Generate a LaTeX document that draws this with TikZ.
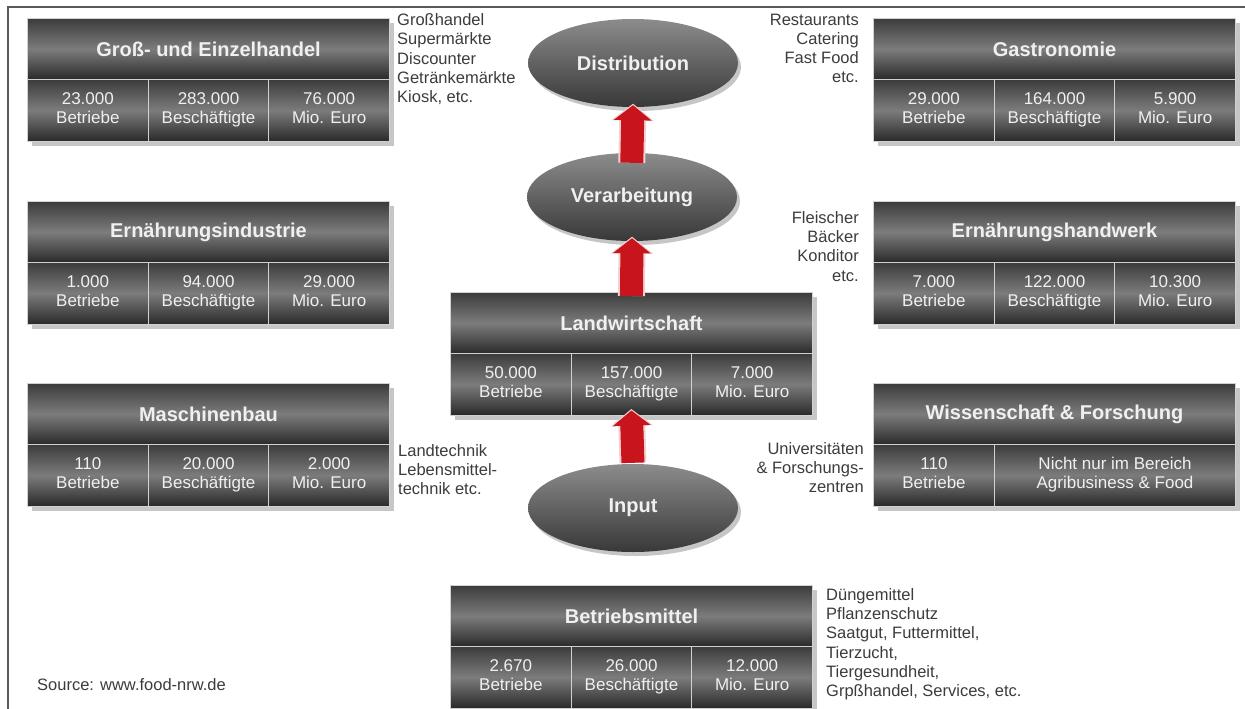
\documentclass[tikz,border=0pt]{standalone}
\usepackage{fontspec}
\setmainfont{Liberation Sans}
\usetikzlibrary{shapes.geometric,shadows,arrows.meta}
\definecolor{boxdark}{HTML}{2A2A2A}
\definecolor{boxtop}{HTML}{3C3C3C}
\definecolor{boxlight}{HTML}{7C7C7C}
\definecolor{elltop}{HTML}{8C8C8C}
\definecolor{ellbot}{HTML}{383838}
\definecolor{arrred}{HTML}{C8141C}
\definecolor{arredge}{HTML}{F2D2D2}
\definecolor{sidetext}{HTML}{3C3C3C}
\definecolor{framec}{HTML}{5A5A5A}
\definecolor{shadowc}{HTML}{C6C6C6}
\newcommand\cellstrut{\rule[-4.5pt]{0pt}{24.5pt}}
\tikzset{
  hdr/.style={anchor=north west, inner sep=0pt, minimum height=61pt,
    top color=boxtop, bottom color=boxdark, middle color=boxlight,
    draw=white!82!black, line width=1pt, text=white!94!black,
    font=\fontsize{20}{24}\selectfont\bfseries},
  cellbox/.style={hdr, minimum height=61.5pt, align=center,
    font=\fontsize{17}{19}\selectfont,
    execute at begin node=\cellstrut, execute at end node=\cellstrut},
  ell/.style={ellipse, minimum width=210pt, minimum height=88pt, inner sep=0pt,
    top color=elltop, bottom color=ellbot, text=white!94!black,
    font=\fontsize{20}{24}\selectfont\bfseries,
    drop shadow={shadow xshift=3pt, shadow yshift=-4pt, fill=shadowc, opacity=1}},
  sidetxt/.style={inner sep=0pt, text=sidetext, font=\fontsize{16.5}{19.3}\selectfont},
  arrowout/.style={draw=arredge, line width=27pt, -{Triangle[length=17pt,width=42pt]}},
  arrowin/.style={draw=arrred, line width=23pt, -{Triangle[length=15pt,width=37pt]}},
}
\newcommand\tribox[7]{%
  \fill[shadowc] (#2+5,#3+5) rectangle (#2+367,#3+128);
  \node[hdr, minimum width=362pt] (#1) at (#2,#3) {#4};
  \node[cellbox, minimum width=120.67pt] (#1a) at (#2,#3+61) {#5};
  \node[cellbox, minimum width=120.67pt] (#1b) at (#2+120.67,#3+61) {#6};
  \node[cellbox, minimum width=120.67pt] (#1c) at (#2+241.33,#3+61) {#7};
}
\begin{document}
\begin{tikzpicture}[x=1pt,y=-1pt]
\useasboundingbox (0,0) rectangle (1245,709);
\fill[white] (0,0) rectangle (1245,709);
\draw[framec, line width=1.3pt] (8,709) -- (8,7) -- (1245,7);

% boxes
\tribox{gross}{27}{18}{Groß- und Einzelhandel}{23.000\\Betriebe}{283.000\\Beschäftigte}{76.000\\Mio. Euro}
\tribox{gastro}{873}{18}{Gastronomie}{29.000\\Betriebe}{164.000\\Beschäftigte}{5.900\\Mio. Euro}
\tribox{ind}{27}{201}{Ernährungsindustrie}{1.000\\Betriebe}{94.000\\Beschäftigte}{29.000\\Mio. Euro}
\tribox{hand}{873}{201}{Ernährungshandwerk}{7.000\\Betriebe}{122.000\\Beschäftigte}{10.300\\Mio. Euro}
\tribox{masch}{27}{383}{Maschinenbau}{110\\Betriebe}{20.000\\Beschäftigte}{2.000\\Mio. Euro}
\tribox{land}{450}{292}{Landwirtschaft}{50.000\\Betriebe}{157.000\\Beschäftigte}{7.000\\Mio. Euro}
\tribox{betr}{450}{585}{Betriebsmittel}{2.670\\Betriebe}{26.000\\Beschäftigte}{12.000\\Mio. Euro}

% Wissenschaft box (two cells)
\fill[shadowc] (878,388) rectangle (1240,511);
\node[hdr, minimum width=362pt] (wiss) at (873,383) {Wissenschaft \& Forschung};
\node[cellbox, minimum width=121pt] (wissa) at (873,444) {110\\Betriebe};
\node[cellbox, minimum width=241pt] (wissb) at (994,444) {Nicht nur im Bereich\\Agribusiness \& Food};

% ellipses
\node[ell] (distr) at (633,63) {Distribution};
\node[ell] (verarb) at (632,197) {Verarbeitung};
\node[ell] (input) at (633,508) {Input};

% block arrows
\draw[arrowout, shorten <=-10pt, shorten >=-3.5pt] (verarb.north) -- (distr.south);
\draw[arrowin, shorten <=-10pt, shorten >=-2pt] (verarb.north) -- (distr.south);
\draw[arrowout, shorten <=-4pt, shorten >=-4.5pt] (land.north) -- (verarb.south);
\draw[arrowin, shorten <=-4pt, shorten >=-3pt] (land.north) -- (verarb.south);
\draw[arrowout, shorten <=1pt, shorten >=-6.5pt] (input.north) -- (landb.south);
\draw[arrowin, shorten <=1pt, shorten >=-5pt] (input.north) -- (landb.south);

% side texts
\node[sidetxt, anchor=north west, align=left] (t1) at (397,13.5)
  {Großhandel\\Supermärkte\\Discounter\\Getränkemärkte\\Kiosk, etc.};
\node[sidetxt, anchor=north east, align=right] (t2) at (859,13.5)
  {Restaurants\\Catering\\Fast Food\\etc.};
\node[sidetxt, anchor=north east, align=right] (t3) at (859,211)
  {Fleischer\\Bäcker\\Konditor\\etc.};
\node[sidetxt, anchor=north west, align=left] (t4) at (398,444)
  {Landtechnik\\Lebensmittel-\\technik etc.};
\node[sidetxt, anchor=north east, align=right] (t5) at (864,442)
  {Universitäten\\\& Forschungs-\\zentren};
\node[sidetxt, anchor=north west, align=left] (t6) at (826,588)
  {Düngemittel\\Pflanzenschutz\\Saatgut, Futtermittel,\\Tierzucht,\\Tiergesundheit,\\Grpßhandel, Services, etc.};
\node[sidetxt, anchor=west] (src) at (37,685) {Source: www.food-nrw.de};
\end{tikzpicture}
\end{document}
